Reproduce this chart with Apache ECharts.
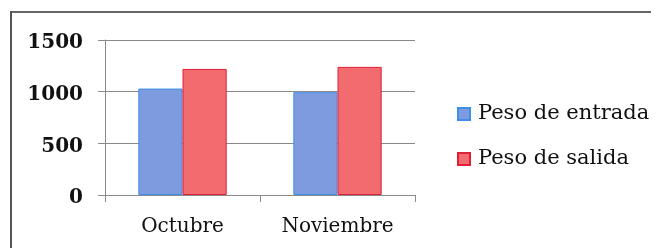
<!DOCTYPE html>
<html>
<head>
<meta charset="utf-8">
<script src="https://cdn.jsdelivr.net/npm/echarts@6/dist/echarts.min.js"></script>
<style>
  html, body { margin: 0; padding: 0; background: #fff; overflow: hidden; }
  #wrap { position: relative; width: 660px; height: 248px; }
  #chart { width: 660px; height: 248px; }
  /* marco exterior: solo izquierda y arriba */
  .bar-top { position: absolute; left: 10px; top: 11px; width: 641px; height: 2px; background: #666; }
  .bar-left { position: absolute; left: 10px; top: 11px; width: 2px; height: 237px; background: #555; }
</style>
</head>
<body>
<div id="wrap">
  <div id="chart"></div>
  <div class="bar-top"></div>
  <div class="bar-left"></div>
</div>
<script>
const categories = ['Octubre', 'Noviembre']
const entrada = [1030, 995]
const salida = [1220, 1240]
const seriesNames = ['Peso de entrada', 'Peso de salida']

const chart = echarts.init(document.getElementById('chart'))
const font = 'DejaVu Serif'
const gridColor = '#8a8a8a'

const option = {
  animation: false,
  backgroundColor: '#fff',
  grid: { left: 105, right: 245, top: 40, bottom: 53 },
  legend: {
    orient: 'vertical',
    left: 457,
    top: 102,
    padding: 0,
    itemWidth: 12,
    itemHeight: 12,
    itemGap: 21,
    icon: 'rect',
    textStyle: {
      fontFamily: font,
      fontSize: 21,
      lineHeight: 24,
      color: '#111',
      padding: [0, 0, 0, 3]
    },
    data: seriesNames
  },
  xAxis: {
    type: 'category',
    data: categories,
    axisLine: { lineStyle: { color: gridColor } },
    axisTick: { show: true, length: 7, lineStyle: { color: gridColor } },
    axisLabel: {
      fontFamily: font,
      fontSize: 20,
      color: '#111',
      margin: 22
    }
  },
  yAxis: {
    type: 'value',
    min: 0,
    max: 1500,
    interval: 500,
    axisLine: { show: true, lineStyle: { color: gridColor } },
    axisTick: { show: true, length: 7, lineStyle: { color: gridColor } },
    splitLine: { lineStyle: { color: gridColor } },
    axisLabel: {
      fontFamily: font,
      fontSize: 20,
      fontWeight: 'bold',
      color: '#111',
      margin: 22,
      verticalAlign: 'top',
      lineHeight: 6,
      formatter: v => String(v)
    }
  },
  series: [
    {
      name: seriesNames[0],
      type: 'bar',
      data: entrada,
      barGap: '0%',
      barCategoryGap: '43%',
      itemStyle: { color: '#7f9be0', borderColor: '#3f8ee8', borderWidth: 1 }
    },
    {
      name: seriesNames[1],
      type: 'bar',
      data: salida,
      itemStyle: { color: '#f26b6e', borderColor: '#e0203a', borderWidth: 1 }
    }
  ]
}

chart.setOption(option)
</script>
</body>
</html>
